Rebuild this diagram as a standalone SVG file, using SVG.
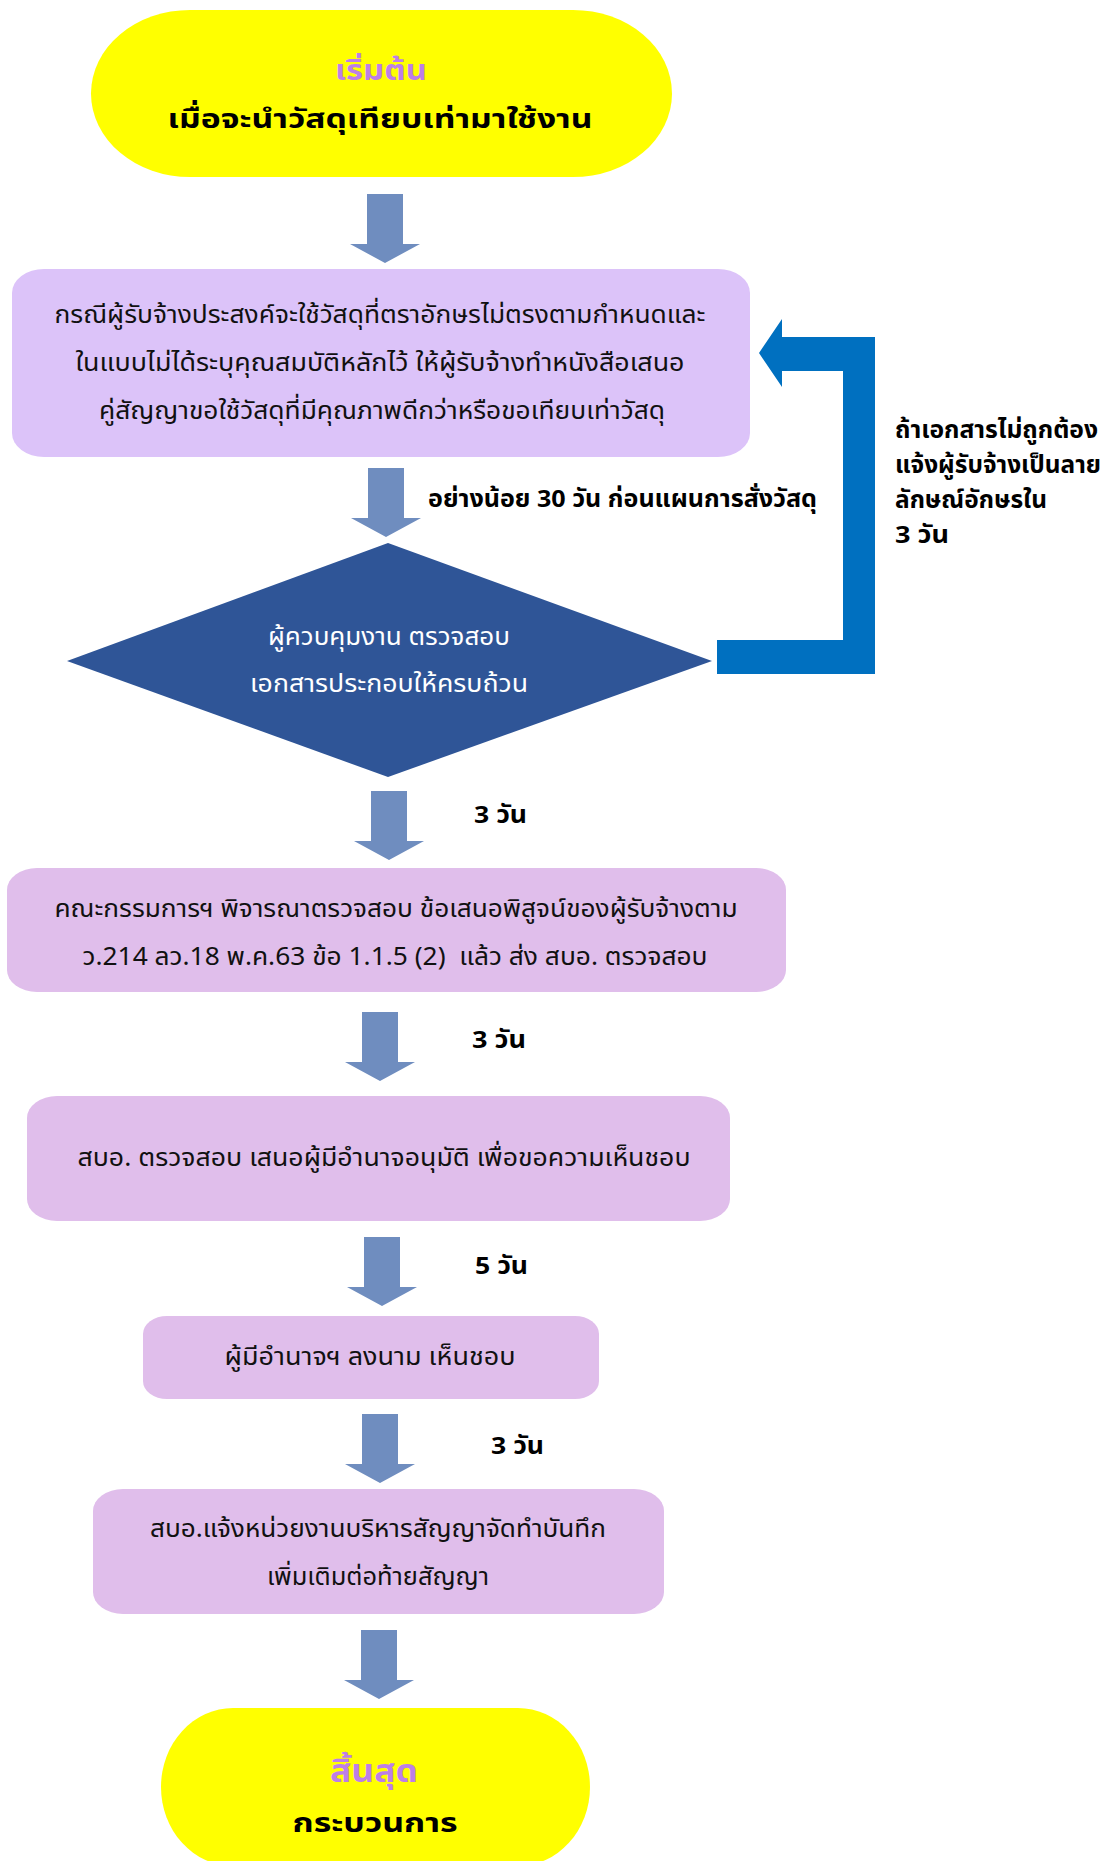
<svg xmlns="http://www.w3.org/2000/svg" xmlns:xlink="http://www.w3.org/1999/xlink" width="1106" height="1861" viewBox="0 0 1106 1861">
  <style>
    text { font-family: "Noto Sans Thai", "Noto Sans", "DejaVu Sans", sans-serif; }
    .term { fill: #FFFF00; }
    .step1 { fill: #DCC3F9; }
    .step { fill: #E0BEEB; }
    .decision { fill: #2F5597; }
    .flow { fill: #6F8DBF; }
    .back { fill: #0070C0; }
    .t { font-size: 25px; fill: #111; text-anchor: middle; }
    .tw { font-size: 25px; fill: #FFFFFF; text-anchor: middle; }
    .lbl { font-size: 24px; font-weight: bold; fill: #000; }
    .head { font-size: 28px; font-weight: bold; fill: #BD7FE6; text-anchor: middle; }
    .sub { font-size: 27px; font-weight: bold; fill: #000; text-anchor: middle; }
  </style>
  <defs>
    <!-- block arrow pointing down, origin at top-left of the shaft -->
    <path id="down" d="M0,0 H36 V50 H53 L18,69 L-17,50 H0 Z"/>
  </defs>

  <rect width="1106" height="1861" fill="#FFFFFF"/>

  <g id="connectors">
    <use xlink:href="#down" href="#down" class="flow" x="367" y="194"/>
    <use xlink:href="#down" href="#down" class="flow" x="368" y="468"/>
    <use xlink:href="#down" href="#down" class="flow" x="371" y="791"/>
    <use xlink:href="#down" href="#down" class="flow" x="362" y="1012"/>
    <use xlink:href="#down" href="#down" class="flow" x="364" y="1237"/>
    <use xlink:href="#down" href="#down" class="flow" x="362" y="1414"/>
    <use xlink:href="#down" href="#down" class="flow" x="361" y="1630"/>
    <!-- return path from the check back to the proposal step -->
    <polygon class="back" points="717,640 843,640 843,371 782,371 782,387 759,353 782,319 782,337 875,337 875,674 717,674"/>

    <text class="lbl" x="428" y="507" textLength="389" lengthAdjust="spacingAndGlyphs">อย่างน้อย 30 วัน ก่อนแผนการสั่งวัสดุ</text>
    <text class="lbl" x="895" y="438" textLength="203" lengthAdjust="spacingAndGlyphs">ถ้าเอกสารไม่ถูกต้อง</text>
    <text class="lbl" x="895" y="473" textLength="206" lengthAdjust="spacingAndGlyphs">แจ้งผู้รับจ้างเป็นลาย</text>
    <text class="lbl" x="895" y="508" textLength="152" lengthAdjust="spacingAndGlyphs">ลักษณ์อักษรใน</text>
    <text class="lbl" x="895" y="543" textLength="54" lengthAdjust="spacingAndGlyphs">3 วัน</text>
    <text class="lbl" x="474" y="823" textLength="53" lengthAdjust="spacingAndGlyphs">3 วัน</text>
    <text class="lbl" x="472" y="1048" textLength="54" lengthAdjust="spacingAndGlyphs">3 วัน</text>
    <text class="lbl" x="475" y="1274" textLength="53" lengthAdjust="spacingAndGlyphs">5 วัน</text>
    <text class="lbl" x="491" y="1454" textLength="53" lengthAdjust="spacingAndGlyphs">3 วัน</text>
  </g>

  <g id="start">
    <rect class="term" x="91" y="10" width="581" height="167" rx="99" ry="83.5"/>
    <text class="head" x="381" y="80" textLength="92" lengthAdjust="spacingAndGlyphs">เริ่มต้น</text>
    <text class="sub" x="380" y="128" textLength="425" lengthAdjust="spacingAndGlyphs">เมื่อจะนำวัสดุเทียบเท่ามาใช้งาน</text>
  </g>

  <g id="proposal">
    <rect class="step1" x="12" y="269" width="738" height="188" rx="32" ry="24"/>
    <text class="t" x="380" y="323" textLength="651" lengthAdjust="spacingAndGlyphs">กรณีผู้รับจ้างประสงค์จะใช้วัสดุที่ตราอักษรไม่ตรงตามกำหนดและ</text>
    <text class="t" x="380" y="371" textLength="609" lengthAdjust="spacingAndGlyphs">ในแบบไม่ได้ระบุคุณสมบัติหลักไว้ ให้ผู้รับจ้างทำหนังสือเสนอ</text>
    <text class="t" x="382" y="419" textLength="566" lengthAdjust="spacingAndGlyphs">คู่สัญญาขอใช้วัสดุที่มีคุณภาพดีกว่าหรือขอเทียบเท่าวัสดุ</text>
  </g>

  <g id="check">
    <polygon class="decision" points="388,543 712,661 388,777 67,661"/>
    <text class="tw" x="389" y="645" textLength="242" lengthAdjust="spacingAndGlyphs">ผู้ควบคุมงาน ตรวจสอบ</text>
    <text class="tw" x="389" y="692" textLength="278" lengthAdjust="spacingAndGlyphs">เอกสารประกอบให้ครบถ้วน</text>
  </g>

  <g id="committee">
    <rect class="step" x="7" y="868" width="779" height="124" rx="30" ry="22"/>
    <text class="t" x="396" y="917" textLength="683" lengthAdjust="spacingAndGlyphs">คณะกรรมการฯ พิจารณาตรวจสอบ ข้อเสนอพิสูจน์ของผู้รับจ้างตาม</text>
    <text class="t" x="395" y="965" textLength="625" lengthAdjust="spacingAndGlyphs" xml:space="preserve">ว.214 ลว.18 พ.ค.63 ข้อ 1.1.5 (2)  แล้ว ส่ง สบอ. ตรวจสอบ</text>
  </g>

  <g id="review">
    <rect class="step" x="27" y="1096" width="703" height="125" rx="30" ry="22"/>
    <text class="t" x="384" y="1166" textLength="613" lengthAdjust="spacingAndGlyphs">สบอ. ตรวจสอบ เสนอผู้มีอำนาจอนุมัติ เพื่อขอความเห็นชอบ</text>
  </g>

  <g id="approve">
    <rect class="step" x="143" y="1316" width="456" height="83" rx="24" ry="18"/>
    <text class="t" x="370" y="1365" textLength="291" lengthAdjust="spacingAndGlyphs">ผู้มีอำนาจฯ ลงนาม เห็นชอบ</text>
  </g>

  <g id="record">
    <rect class="step" x="93" y="1489" width="571" height="125" rx="30" ry="22"/>
    <text class="t" x="378" y="1537" textLength="456" lengthAdjust="spacingAndGlyphs">สบอ.แจ้งหน่วยงานบริหารสัญญาจัดทำบันทึก</text>
    <text class="t" x="378" y="1585" textLength="222" lengthAdjust="spacingAndGlyphs">เพิ่มเติมต่อท้ายสัญญา</text>
  </g>

  <g id="end">
    <rect class="term" x="161" y="1708" width="429" height="158" rx="72" ry="79"/>
    <text class="head" x="374" y="1782" style="font-size:31px" textLength="88" lengthAdjust="spacingAndGlyphs">สิ้นสุด</text>
    <text class="sub" x="375" y="1832" textLength="165" lengthAdjust="spacingAndGlyphs">กระบวนการ</text>
  </g>
</svg>
